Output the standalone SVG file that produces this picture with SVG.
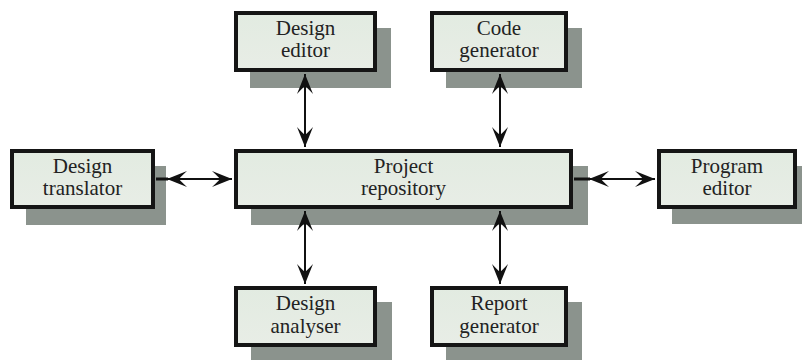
<svg xmlns="http://www.w3.org/2000/svg" width="802" height="360" viewBox="0 0 802 360">
<defs>
<marker id="ah" viewBox="-22 -10 24 20" markerWidth="24" markerHeight="20" refX="0" refY="0" orient="auto-start-reverse" markerUnits="userSpaceOnUse">
<path d="M0,0 L-20,-8 Q-14,-2.5 -12,0 Q-14,2.5 -20,8 Z" fill="#111"/>
</marker>
<linearGradient id="fillg" x1="0" y1="0" x2="0" y2="1">
<stop offset="0" stop-color="#e2ebe1"/>
<stop offset="1" stop-color="#e8ede6"/>
</linearGradient>
</defs>
<style>
.shadow{fill:#8b938d;}
.box{fill:url(#fillg);stroke:#151515;stroke-width:4;}
.lbl{font-family:"Liberation Serif","Times New Roman",serif;font-size:21px;fill:#222;text-anchor:middle;}
.conn{stroke:#111;stroke-width:2;fill:none;}
.stub{stroke:#111;stroke-width:3;fill:none;}
</style>
<rect width="802" height="360" fill="#ffffff"/>
<g id="shadows">
<rect class="shadow" x="250" y="28" width="141" height="60"/>
<rect class="shadow" x="446" y="28" width="136" height="60"/>
<rect class="shadow" x="26" y="166" width="140" height="59"/>
<rect class="shadow" x="251" y="166" width="337" height="59"/>
<rect class="shadow" x="672" y="166" width="140" height="58"/>
<rect class="shadow" x="251" y="302" width="141" height="60"/>
<rect class="shadow" x="446" y="302" width="136" height="60"/>
</g>
<g id="connectors">
<line class="conn" x1="305" y1="74" x2="305" y2="147" marker-start="url(#ah)" marker-end="url(#ah)"/>
<line class="conn" x1="500" y1="74" x2="500" y2="147" marker-start="url(#ah)" marker-end="url(#ah)"/>
<line class="conn" x1="305" y1="211" x2="305" y2="284" marker-start="url(#ah)" marker-end="url(#ah)"/>
<line class="conn" x1="500" y1="211" x2="500" y2="284" marker-start="url(#ah)" marker-end="url(#ah)"/>
<line class="stub" x1="156" y1="179" x2="168" y2="179"/>
<line class="conn" x1="167" y1="179" x2="232" y2="179" marker-start="url(#ah)" marker-end="url(#ah)"/>
<line class="stub" x1="574" y1="179" x2="590" y2="179"/>
<line class="conn" x1="589" y1="179" x2="655" y2="179" marker-start="url(#ah)" marker-end="url(#ah)"/>
</g>
<g id="design-editor">
<rect class="box" x="236" y="13" width="139" height="57"/>
<text class="lbl" x="305.5" y="35">Design</text>
<text class="lbl" x="305.5" y="57">editor</text>
</g>
<g id="code-generator">
<rect class="box" x="432" y="13" width="134" height="57"/>
<text class="lbl" x="499" y="35">Code</text>
<text class="lbl" x="499" y="57">generator</text>
</g>
<g id="design-translator">
<rect class="box" x="12" y="151" width="141" height="56"/>
<text class="lbl" x="82.5" y="173">Design</text>
<text class="lbl" x="82.5" y="195">translator</text>
</g>
<g id="project-repository">
<rect class="box" x="236" y="151" width="335" height="56"/>
<text class="lbl" x="403.5" y="173">Project</text>
<text class="lbl" x="403.5" y="195">repository</text>
</g>
<g id="program-editor">
<rect class="box" x="659" y="151" width="136" height="56"/>
<text class="lbl" x="727" y="173">Program</text>
<text class="lbl" x="727" y="195">editor</text>
</g>
<g id="design-analyser">
<rect class="box" x="236" y="288" width="139" height="57"/>
<text class="lbl" x="305.5" y="310">Design</text>
<text class="lbl" x="305.5" y="333">analyser</text>
</g>
<g id="report-generator">
<rect class="box" x="432" y="288" width="134" height="57"/>
<text class="lbl" x="499" y="310">Report</text>
<text class="lbl" x="499" y="333">generator</text>
</g>
</svg>
